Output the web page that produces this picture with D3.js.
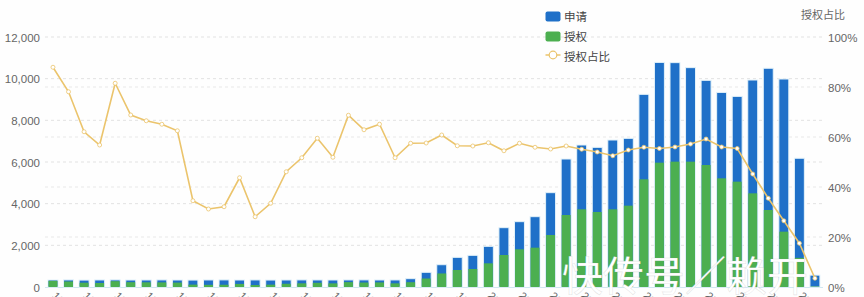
<!DOCTYPE html>
<html><head><meta charset="utf-8">
<script src="https://cdn.jsdelivr.net/npm/d3@7/dist/d3.min.js"></script>
<style>
html,body{margin:0;padding:0;background:#fefefe;}
svg{display:block;font-family:"Liberation Sans","Noto Sans CJK SC",Arial,sans-serif;}
</style></head>
<body><svg id="c" width="864" height="297"></svg>
<script>
const years = d3.range(1972, 2022).map(String);
const applications = [336,340,332,338,342,335,337,340,336,333,338,341,336,339,334,337,340,338,336,339,341,337,338,400,
  705,1070,1424,1520,1952,2848,3136,3376,4528,6144,6816,6704,7056,7136,9248,10780,10770,10530,9920,9340,9150,9936,10500,9984,6180,570];
const grants = [295,265,206,192,279,231,224,221,211,115,105,108,148,94,113,155,176,201,174,233,214,220,175,230,
  407,650,816,864,1136,1536,1808,1888,2496,3456,3728,3600,3728,3904,5168,5968,6016,6016,5856,5216,5056,4496,3696,2656,1400,20];
const grantRatio = [87.9,78.1,62.1,56.8,81.5,68.8,66.5,65.1,62.5,34.5,31.2,32.1,43.7,28.1,33.5,46.1,51.7,59.5,51.9,68.7,62.9,65.1,51.7,57.5,
  57.6,60.8,56.5,56.4,57.7,54.5,57.5,55.9,55.2,56.4,55.1,54.0,52.5,54.8,55.9,55.4,56.0,57.2,59.2,56.0,55.4,45.2,35.5,26.5,17.5,3.5];
const leftTicks = [0,2000,4000,6000,8000,10000,12000];
const rightTicks = [0,20,40,60,80,100];
const seriesNames = ["申请","授权","授权占比"];
const rightTitle = "授权占比";
const watermark = "快传号／赖开";

const svg = d3.select("#c");
const x = d3.scaleBand().domain(d3.range(years.length)).range([45.2, 822.7]).paddingInner(0.36).paddingOuter(0.18);
const yL = d3.scaleLinear().domain([0,12000]).range([287,37]);
const yR = d3.scaleLinear().domain([0,100]).range([287,37]);
const cBlue = "#1f70c8", cGreen = "#4caf50", cLine = "#ebc46c";

// grids
const g = svg.append("g");
g.selectAll(".gl").data(leftTicks.filter(d=>d>0)).join("line")
  .attr("x1",45).attr("x2",823).attr("y1",d=>yL(d)).attr("y2",d=>yL(d))
  .attr("stroke","#e2e2e2").attr("stroke-dasharray","3,3");
g.selectAll(".gr").data(rightTicks.filter(d=>d>0&&d<100)).join("line")
  .attr("x1",45).attr("x2",823).attr("y1",d=>yR(d)).attr("y2",d=>yR(d))
  .attr("stroke","#e8e8e8").attr("stroke-dasharray","3,3");

// left axis
const axL = d3.axisLeft(yL).tickValues(leftTicks).tickFormat(d3.format(",")).tickSize(0).tickPadding(0);
svg.append("g").attr("transform","translate(40,0)").call(axL)
  .call(s=>s.select(".domain").remove())
  .selectAll("text").attr("fill","#666").attr("font-size",11.5).attr("dy","0.35em");
// right axis
const axR = d3.axisRight(yR).tickValues(rightTicks).tickFormat(d=>d+"%").tickSize(0).tickPadding(0);
svg.append("g").attr("transform","translate(828,0)").call(axR)
  .call(s=>s.select(".domain").remove())
  .selectAll("text").attr("fill","#666").attr("font-size",11.5).attr("dy","0.35em");
svg.append("text").attr("x",845).attr("y",19).attr("text-anchor","end")
  .attr("font-size",11).attr("fill","#666").attr("font-family","Noto Sans CJK SC").text(rightTitle);

// x axis line
svg.append("line").attr("x1",45).attr("x2",823).attr("y1",287.5).attr("y2",287.5).attr("stroke","#cfe6f2");

// bars
svg.append("g").selectAll("rect").data(applications).join("rect")
  .attr("x",(d,i)=>x(i)).attr("width",x.bandwidth())
  .attr("y",d=>yL(d)).attr("height",d=>yL(0)-yL(d))
  .attr("fill",cBlue).attr("stroke","#e3f2fa").attr("stroke-width",1);
svg.append("g").selectAll("rect").data(grants).join("rect")
  .attr("x",(d,i)=>x(i)+0.5).attr("width",x.bandwidth()-1)
  .attr("y",d=>yL(d)).attr("height",d=>yL(0)-yL(d))
  .attr("fill",cGreen);

// x labels (cut by the bottom edge, as in the reference)
svg.append("g").selectAll("text").data(years).join("text")
  .filter((d,i)=>i%2===0)
  .attr("transform",(d,i)=>`translate(${x(i*2)+x.bandwidth()/2-1.5},296.5) rotate(45)`)
  .attr("font-size",11).attr("fill","#666").text(d=>d);

// line
const cx = i => x(i)+x.bandwidth()/2;
svg.append("path").datum(grantRatio)
  .attr("d", d3.line().x((d,i)=>cx(i)).y(d=>yR(d)))
  .attr("fill","none").attr("stroke",cLine).attr("stroke-width",1.6);
svg.append("g").selectAll("circle").data(grantRatio).join("circle")
  .attr("cx",(d,i)=>cx(i)).attr("cy",d=>yR(d)).attr("r",2)
  .attr("fill","#fff").attr("stroke",cLine).attr("stroke-width",0.8);

// legend
const lg = svg.append("g").attr("font-size",11.5).attr("fill","#444").attr("font-family","Noto Sans CJK SC");
lg.append("rect").attr("x",545.5).attr("y",11.5).attr("width",15).attr("height",10).attr("rx",2).attr("fill",cBlue);
lg.append("rect").attr("x",545.5).attr("y",31.5).attr("width",15).attr("height",10).attr("rx",2).attr("fill",cGreen);
lg.append("line").attr("x1",545.5).attr("x2",560.5).attr("y1",55).attr("y2",55).attr("stroke",cLine).attr("stroke-width",1.5);
lg.append("circle").attr("cx",553).attr("cy",55).attr("r",3.8).attr("fill","#fff").attr("stroke",cLine).attr("stroke-width",1.2);
seriesNames.forEach((n,k)=>{
  lg.append("text").attr("x",564).attr("y",16.5+k*20).attr("dy","0.35em").text(n);
});

// watermark
svg.append("text").attr("x",562).attr("y",291).attr("font-size",41)
  .attr("font-family","Noto Sans CJK SC").attr("fill","#ffffff")
  .attr("stroke","rgba(150,150,150,0.25)").attr("stroke-width",0.6)
  .text(watermark);
</script></body></html>
